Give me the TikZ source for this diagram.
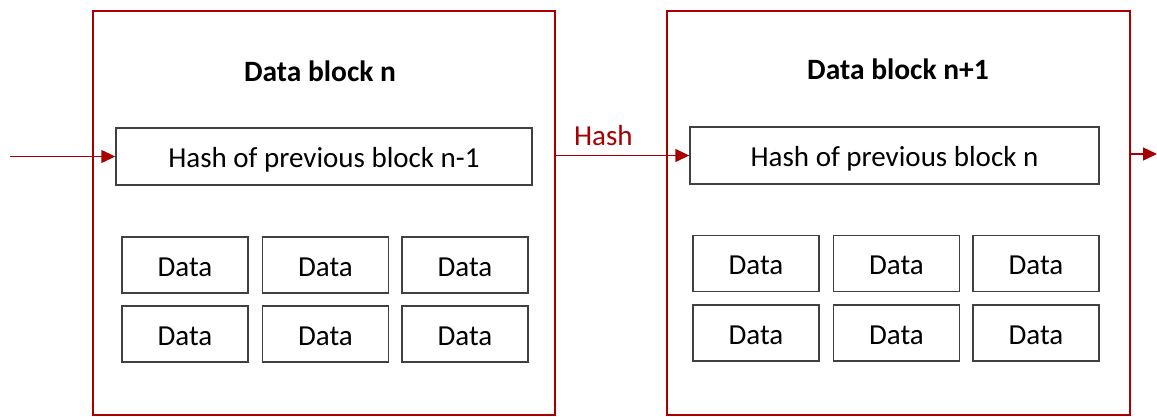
\documentclass[tikz,border=0pt]{standalone}
\usepackage{fontspec}
\setmainfont{Carlito}
\usepackage{tikz}
\usetikzlibrary{arrows.meta,positioning}
\definecolor{chainred}{RGB}{168,0,0}

\begin{document}
\begin{tikzpicture}[x=1pt,y=-1pt,>={Triangle[length=14pt,width=13pt]},
	block/.style={draw=chainred,line width=2.5pt},
	hash box/.style={draw=black!75,line width=1.4pt,minimum width=416pt,minimum height=57pt,font=\fontsize{29}{32}\selectfont,text height=26pt,text depth=4pt},
	data box/.style={draw=black!75,line width=1.4pt,minimum width=126pt,minimum height=56pt,font=\fontsize{29}{32}\selectfont,text height=26pt,text depth=4pt},
	title/.style={font=\fontsize{29.5}{32}\selectfont\bfseries},
	link/.style={->,draw=chainred,fill=chainred,line width=1.4pt}]
	\useasboundingbox (0,0) rectangle (1157,416);

	% the two blocks of the chain
	\draw[block] (93,415) |- (555,11) -- (555,415) -- cycle;
	\draw[block] (667,415) |- (1130,11) -- (1130,415) -- cycle;
	\node[title] (t1) at (320,71) {Data block n};
	\node[title] (t2) at (898,69) {Data block n+1};

	\node[hash box] (h1) at (324,156.5) {Hash of previous block n-1};
	\node[hash box,minimum width=409pt] (h2) at (894.5,155.5) {Hash of previous block n};

	% data fields, three per row
	\node[data box] (d11) at (185,265) {Data};
	\node[data box] (d12) at (325.5,265) {Data};
	\node[data box] (d13) at (465,265) {Data};
	\node[data box] (d14) at (185,334) {Data};
	\node[data box] (d15) at (325.5,334) {Data};
	\node[data box] (d16) at (465,334) {Data};
	\node[data box] (d21) at (756,263.5) {Data};
	\node[data box] (d22) at (896.5,263.5) {Data};
	\node[data box] (d23) at (1036,263.5) {Data};
	\node[data box] (d24) at (756,333) {Data};
	\node[data box] (d25) at (896.5,333) {Data};
	\node[data box] (d26) at (1036,333) {Data};

	% links between blocks
	\coordinate (in) at (10,156.5);
	\coordinate (out) at (1157,154);
	\coordinate (from) at (555,155.5);
	\draw[link] (in) -- (h1.west);
	\draw[link] (from) -- node[above,text=chainred,font=\fontsize{29}{32}\selectfont,pos=0.36,inner sep=2pt,yshift=7pt] (lbl) {Hash} (h2.west);
	\draw[link] (1130,154) -- (out);
\end{tikzpicture}
\end{document}
